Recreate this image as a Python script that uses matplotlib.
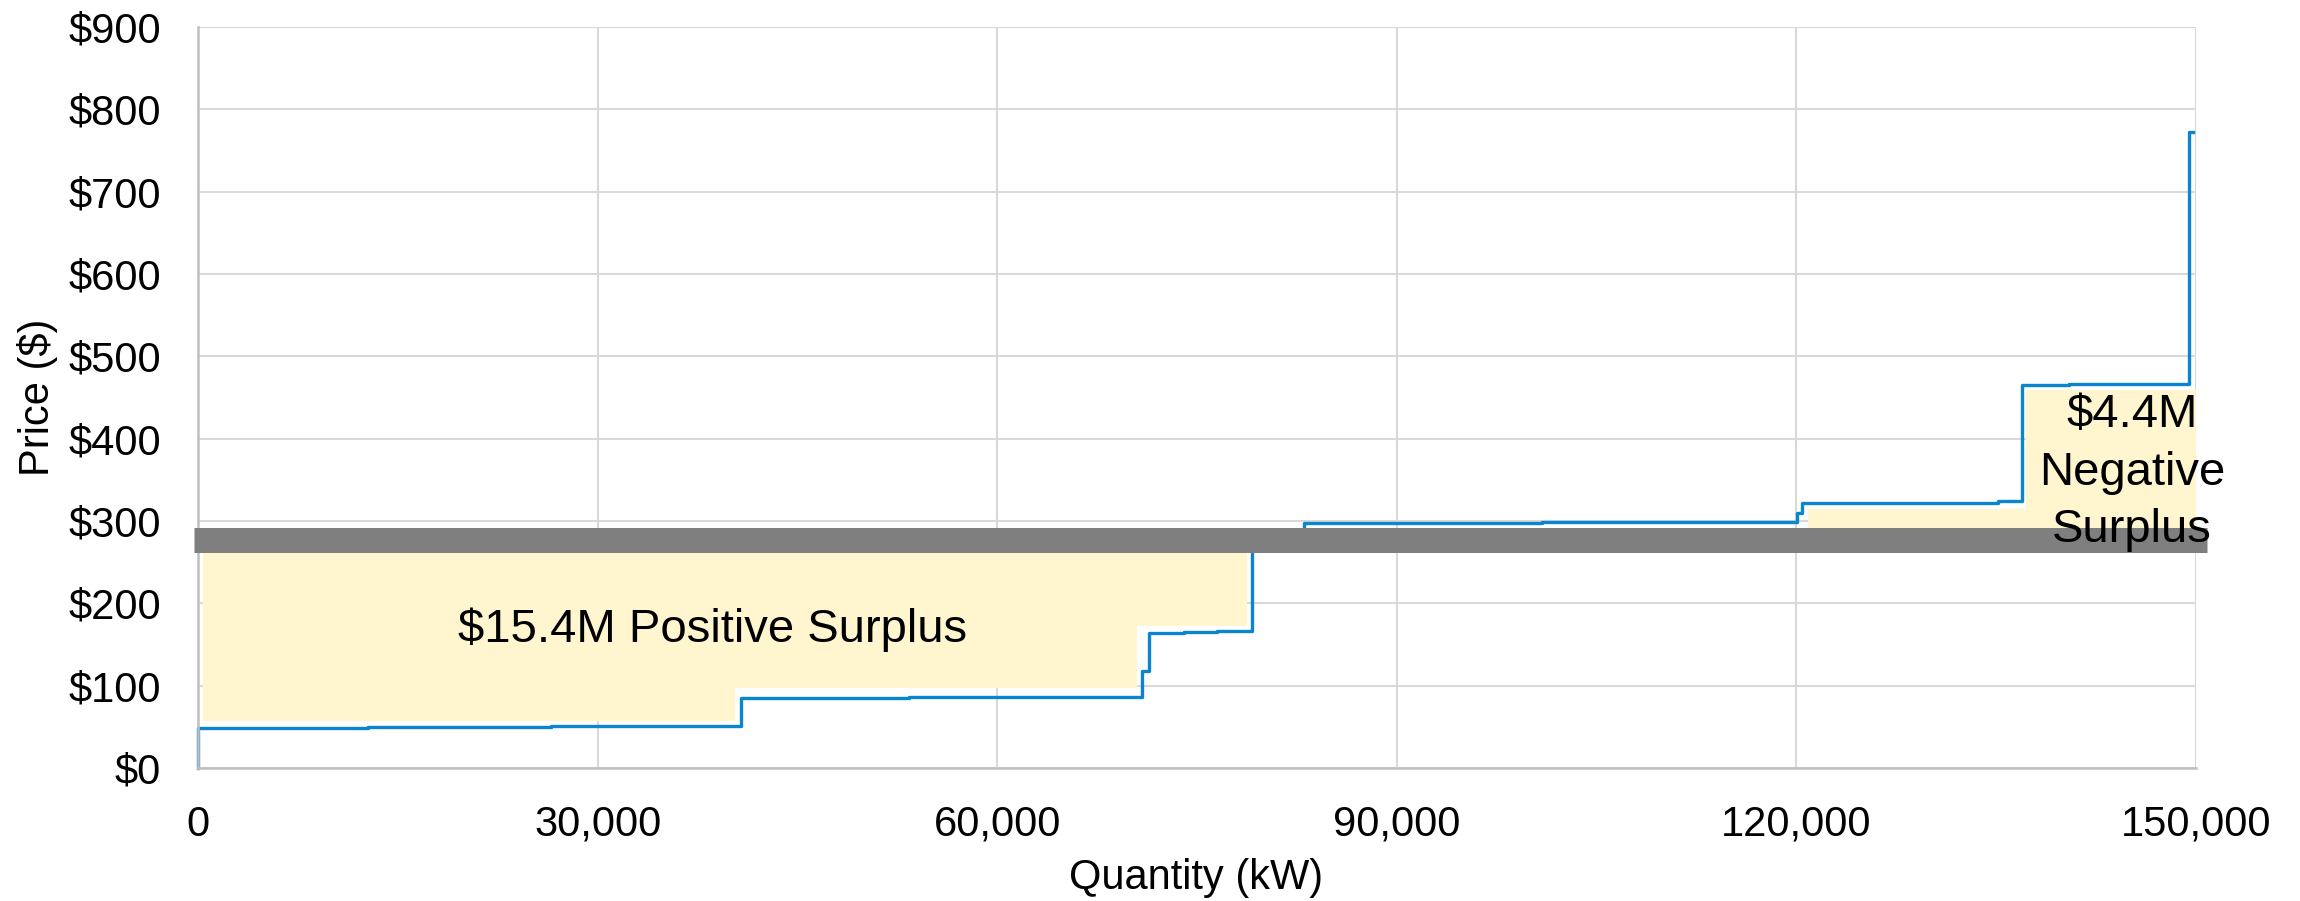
import matplotlib
matplotlib.use("Agg")
import matplotlib.pyplot as plt
from matplotlib.ticker import FuncFormatter, MultipleLocator

plt.rcParams['font.family'] = ['Liberation Sans', 'DejaVu Sans']

# ---- data ----
supply_q = [0, 0, 12800, 26500, 40800, 53400, 70850, 71400, 74000, 76500, 79150,
            83030, 100900, 120030, 120400, 135100, 136940, 140500, 145200, 149450, 149800]
supply_p = [0, 48.5, 49.5, 50.5, 84.5, 86.5, 118, 164.5, 165.5, 166.5, 276.5,
            298, 299.2, 310, 322.3, 324.4, 465.4, 466, 466.8, 773, 773]

clearing_q = [-300, 150800]
clearing_p = [276.5, 276.5]

pos_fill_q = [400, 40300, 70500, 78770]
pos_fill_low = [57, 97, 172, 172]

neg_fill_q = [120860, 137240, 150000]
neg_fill_high = [314, 459, 459]

x_ticks = [0, 30000, 60000, 90000, 120000, 150000]
y_ticks = [0, 100, 200, 300, 400, 500, 600, 700, 800, 900]

pos_label = "$15.4M Positive Surplus"
neg_label = ["$4.4M", "Negative", "Surplus"]

# ---- styling ----
BLUE = '#0A85CE'
GRAY = '#7F7F7F'
YELLOW = '#FFF5CF'
GRID = '#D9D9D9'

fig = plt.figure(figsize=(23, 9.01), dpi=100)
ax = fig.add_axes([198/2300, 1-768/901, 1998/2300, 741/901])

ax.set_xlim(0, 150000)
ax.set_ylim(0, 900)
ax.set_xticks(x_ticks)
ax.set_yticks(y_ticks)
ax.xaxis.set_major_formatter(FuncFormatter(lambda v, p: f"{v:,.0f}"))
ax.yaxis.set_major_formatter(FuncFormatter(lambda v, p: f"${v:,.0f}"))
ax.tick_params(axis='both', length=0, labelsize=30, pad=26.5, colors='black')
ax.grid(True, color=GRID, linewidth=1.5)
ax.set_axisbelow(True)
for s in ['top', 'right']:
    ax.spines[s].set_visible(False)
for s in ['left', 'bottom']:
    ax.spines[s].set_color('#BFBFBF')
    ax.spines[s].set_linewidth(1.8)

# fills
ax.fill_between(pos_fill_q, pos_fill_low, clearing_p[0], step='post',
                color=YELLOW, linewidth=0, zorder=1)
ax.fill_between(neg_fill_q, clearing_p[0], neg_fill_high, step='post',
                color=YELLOW, linewidth=0, zorder=1)

# supply curve
ax.plot(supply_q, supply_p, drawstyle='steps-post', color=BLUE, linewidth=2.4,
        zorder=2, clip_on=False)

# clearing price band
ax.plot(clearing_q, clearing_p, color=GRAY, linewidth=18, solid_capstyle='butt',
        zorder=3, clip_on=False)

# annotations
ax.text(38660, 153.5, pos_label, fontsize=34, ha='center', va='baseline', zorder=5)
for txt, yb in zip(neg_label, [413.9, 343.9, 275.0]):
    ax.text(145200, yb, txt, fontsize=34, ha='center', va='baseline', zorder=5)

fig.text(37/2300, 1-397/901, "Price ($)", rotation=90, fontsize=30,
         ha='center', va='center')
fig.text(1196/2300, 1-878/901, "Quantity (kW)", fontsize=30,
         ha='center', va='center')

fig.savefig("out.png", dpi=100)
